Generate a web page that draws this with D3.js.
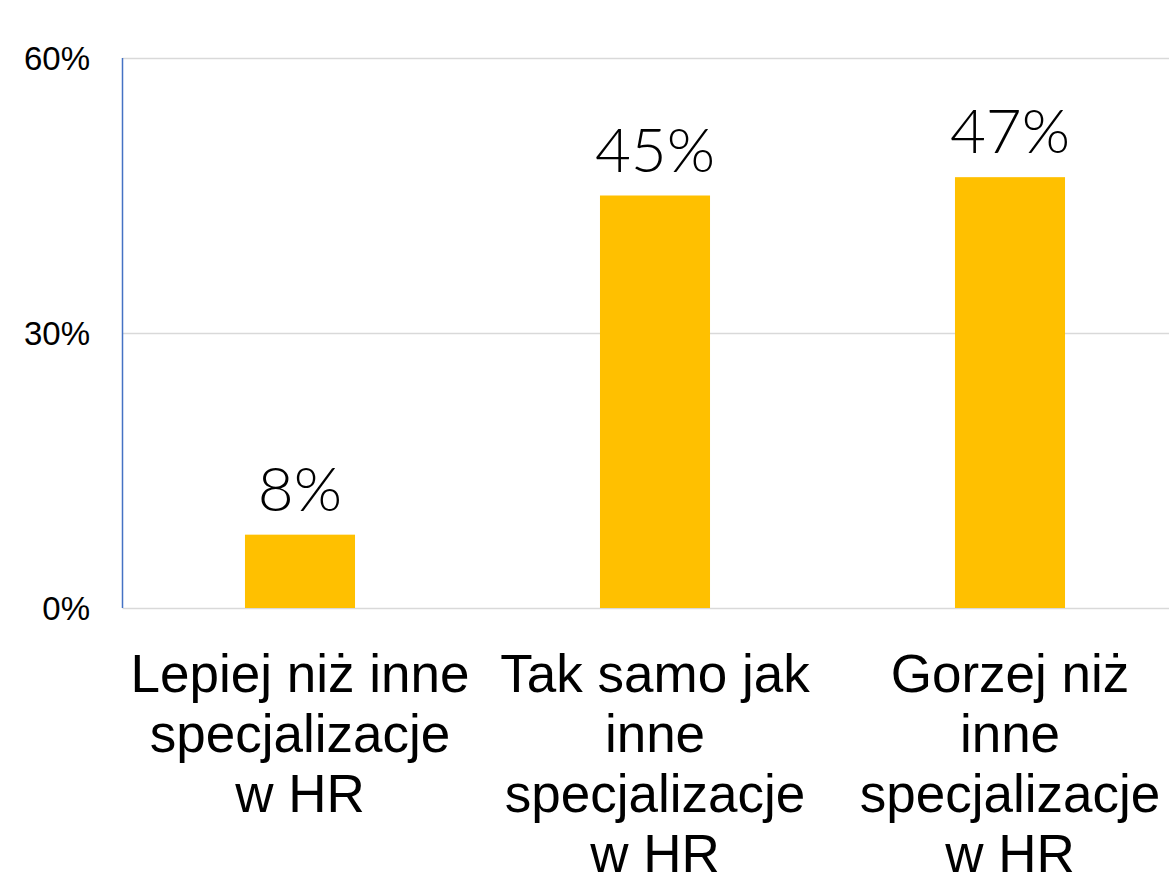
<!DOCTYPE html>
<html>
<head>
<meta charset="utf-8">
<script src="https://cdn.jsdelivr.net/npm/d3@7"></script>
<style>
  html, body { margin: 0; padding: 0; background: #ffffff; }
  svg { display: block; }
</style>
</head>
<body>
<svg id="chart" width="1169" height="873"></svg>
<script>
// Survey answers and their shares (percent)
const categories = [
  ["Lepiej niż inne", "specjalizacje", "w HR"],
  ["Tak samo jak", "inne", "specjalizacje", "w HR"],
  ["Gorzej niż", "inne", "specjalizacje", "w HR"]
];
const values = [8, 45, 47];
const tickValues = [0, 30, 60];

(function () {
  const svg = d3.select("#chart");
  const plotLeft = 122.5, plotRight = 1187.5, plotTop = 58, plotBottom = 608;

  const x = d3.scaleBand()
    .domain(d3.range(categories.length))
    .range([plotLeft, plotRight])
    .paddingInner(0.69)
    .paddingOuter(0.345);

  const y = d3.scaleLinear().domain([0, 60]).range([plotBottom, plotTop]);

  // horizontal gridlines
  svg.append("g")
    .selectAll("line")
    .data(tickValues)
    .join("line")
    .attr("x1", plotLeft)
    .attr("x2", 1169)
    .attr("y1", d => Math.round(y(d)) + 0.5)
    .attr("y2", d => Math.round(y(d)) + 0.5)
    .attr("stroke", "#d9d9d9")
    .attr("stroke-width", 1.5);

  // y tick labels
  svg.append("g")
    .selectAll("text")
    .data(tickValues)
    .join("text")
    .attr("x", 90)
    .attr("y", d => y(d) + 12)
    .attr("text-anchor", "end")
    .attr("font-family", "'Liberation Sans', Arial, sans-serif")
    .attr("font-size", 33)
    .attr("fill", "#000")
    .text(d => d + "%");

  // bars
  svg.append("g")
    .selectAll("rect")
    .data(values)
    .join("rect")
    .attr("x", (d, i) => x(i))
    .attr("width", x.bandwidth())
    .attr("y", d => y(d))
    .attr("height", d => y(0) - y(d))
    .attr("fill", "#FFC000");

  // value labels
  svg.append("g")
    .selectAll("text")
    .data(values)
    .join("text")
    .attr("x", (d, i) => x(i) + x.bandwidth() / 2)
    .attr("y", d => y(d) - 24)
    .attr("text-anchor", "middle")
    .attr("font-family", "Lato, 'Open Sans', sans-serif")
    .attr("font-weight", 300)
    .attr("font-size", 62)
    .attr("fill", "#000")
    .text(d => d + "%");

  // vertical axis line
  svg.append("line")
    .attr("x1", plotLeft).attr("x2", plotLeft)
    .attr("y1", plotTop).attr("y2", plotBottom)
    .attr("stroke", "#4472C4")
    .attr("stroke-width", 1.5);

  // category labels, one tspan per line
  svg.append("g")
    .selectAll("text")
    .data(categories)
    .join("text")
    .attr("text-anchor", "middle")
    .attr("font-family", "'Liberation Sans', Arial, sans-serif")
    .attr("font-size", 53)
    .attr("fill", "#000")
    .each(function (lines, i) {
      const cx = x(i) + x.bandwidth() / 2;
      d3.select(this).selectAll("tspan")
        .data(lines)
        .join("tspan")
        .attr("x", cx)
        .attr("y", (d, j) => 692 + j * 60)
        .text(d => d);
    });
})();
</script>
</body>
</html>
